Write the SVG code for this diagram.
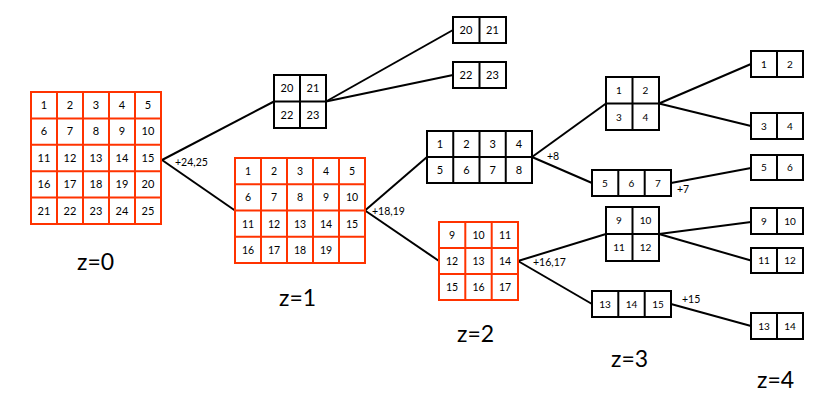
<svg xmlns="http://www.w3.org/2000/svg" width="831" height="411" viewBox="0 0 831 411">
<style>
.bg{fill:#ffffff}
.red{fill:#ffffff;stroke:#ff3300;stroke-width:2}
.redl{stroke:#ff3300;stroke-width:2;fill:none}
.blk{fill:#ffffff;stroke:#000000;stroke-width:2}
.blkl{stroke:#000000;stroke-width:2;fill:none}
.conn line{stroke:#000000;stroke-width:2}
text{font-family:Lato,"Open Sans","Liberation Sans",sans-serif;fill:#000000}
.n{font-size:11px;text-anchor:middle}
.m{font-size:10.5px;text-anchor:middle}
.s{font-size:10px;text-anchor:middle}
.lab{font-size:10.5px}
.z{font-size:23px}
</style>
<rect class="bg" x="0" y="0" width="831" height="411"/>
<g id="connectors" class="conn">
<line x1="162" y1="160" x2="274" y2="101.5"/>
<line x1="162" y1="160" x2="235" y2="210.5"/>
<line x1="326" y1="101.5" x2="453" y2="30"/>
<line x1="326" y1="101.5" x2="453" y2="75"/>
<line x1="365" y1="210.5" x2="427" y2="157"/>
<line x1="365" y1="210.5" x2="439" y2="261"/>
<line x1="532" y1="157" x2="606" y2="103.5"/>
<line x1="532" y1="157" x2="592" y2="183"/>
<line x1="518" y1="261" x2="606" y2="234"/>
<line x1="518" y1="261" x2="592" y2="304"/>
<line x1="659" y1="103.5" x2="751" y2="64"/>
<line x1="659" y1="103.5" x2="751" y2="126"/>
<line x1="671" y1="183" x2="751" y2="168"/>
<line x1="659" y1="234" x2="751" y2="222"/>
<line x1="659" y1="234" x2="751" y2="260.5"/>
<line x1="671" y1="304" x2="751" y2="326"/>
</g>
<g id="edge-labels">
<text class="lab" x="175" y="166">+24,25</text>
<text class="lab" x="372" y="215">+18,19</text>
<text class="lab" x="547" y="160">+8</text>
<text class="lab" x="533" y="266">+16,17</text>
<text class="lab" x="677" y="193">+7</text>
<text class="lab" x="682" y="303">+15</text>
</g>
<g id="grid-z0">
<rect class="red" x="31" y="92" width="130" height="132"/>
<path class="redl" d="M57 92V224M83 92V224M109 92V224M135 92V224M31 118.4H161M31 144.8H161M31 171.2H161M31 197.6H161"/>
<text class="n" x="44" y="109">1</text><text class="n" x="70" y="109">2</text><text class="n" x="96" y="109">3</text><text class="n" x="122" y="109">4</text><text class="n" x="148" y="109">5</text>
<text class="n" x="44" y="135.4">6</text><text class="n" x="70" y="135.4">7</text><text class="n" x="96" y="135.4">8</text><text class="n" x="122" y="135.4">9</text><text class="n" x="148" y="135.4">10</text>
<text class="n" x="44" y="161.8">11</text><text class="n" x="70" y="161.8">12</text><text class="n" x="96" y="161.8">13</text><text class="n" x="122" y="161.8">14</text><text class="n" x="148" y="161.8">15</text>
<text class="n" x="44" y="188.2">16</text><text class="n" x="70" y="188.2">17</text><text class="n" x="96" y="188.2">18</text><text class="n" x="122" y="188.2">19</text><text class="n" x="148" y="188.2">20</text>
<text class="n" x="44" y="214.6">21</text><text class="n" x="70" y="214.6">22</text><text class="n" x="96" y="214.6">23</text><text class="n" x="122" y="214.6">24</text><text class="n" x="148" y="214.6">25</text>
</g>
<g id="grid-z1">
<rect class="red" x="235" y="158" width="130" height="105"/>
<path class="redl" d="M261 158V263M287 158V263M313 158V263M339 158V263M235 184.25H365M235 210.5H365M235 236.75H365"/>
<text class="m" x="248" y="175">1</text><text class="m" x="274" y="175">2</text><text class="m" x="300" y="175">3</text><text class="m" x="326" y="175">4</text><text class="m" x="352" y="175">5</text>
<text class="m" x="248" y="201.2">6</text><text class="m" x="274" y="201.2">7</text><text class="m" x="300" y="201.2">8</text><text class="m" x="326" y="201.2">9</text><text class="m" x="352" y="201.2">10</text>
<text class="m" x="248" y="227.5">11</text><text class="m" x="274" y="227.5">12</text><text class="m" x="300" y="227.5">13</text><text class="m" x="326" y="227.5">14</text><text class="m" x="352" y="227.5">15</text>
<text class="m" x="248" y="253.7">16</text><text class="m" x="274" y="253.7">17</text><text class="m" x="300" y="253.7">18</text><text class="m" x="326" y="253.7">19</text>
</g>
<g id="box-20-23">
<rect class="blk" x="274" y="75" width="52" height="53"/>
<path class="blkl" d="M300 75V128M274 101.5H326"/>
<text class="n" x="287" y="92">20</text><text class="n" x="313" y="92">21</text>
<text class="n" x="287" y="118.5">22</text><text class="n" x="313" y="118.5">23</text>
</g>
<g id="box-20-21">
<rect class="blk" x="453" y="17" width="53" height="26"/>
<path class="blkl" d="M479.5 17V43"/>
<text class="n" x="466" y="34">20</text><text class="n" x="492.5" y="34">21</text>
</g>
<g id="box-22-23">
<rect class="blk" x="453" y="62" width="53" height="26"/>
<path class="blkl" d="M479.5 62V88"/>
<text class="n" x="466" y="79">22</text><text class="n" x="492.5" y="79">23</text>
</g>
<g id="box-1-8">
<rect class="blk" x="427" y="131" width="105" height="52"/>
<path class="blkl" d="M453.25 131V183M479.5 131V183M505.75 131V183M427 157H532"/>
<text class="n" x="440" y="148">1</text><text class="n" x="466.4" y="148">2</text><text class="n" x="492.6" y="148">3</text><text class="n" x="519" y="148">4</text>
<text class="n" x="440" y="174">5</text><text class="n" x="466.4" y="174">6</text><text class="n" x="492.6" y="174">7</text><text class="n" x="519" y="174">8</text>
</g>
<g id="grid-z2">
<rect class="red" x="439" y="222" width="79" height="78"/>
<path class="redl" d="M465.3 222V300M491.7 222V300M439 248H518M439 274H518"/>
<text class="m" x="452" y="239">9</text><text class="m" x="478.5" y="239">10</text><text class="m" x="505" y="239">11</text>
<text class="m" x="452" y="265">12</text><text class="m" x="478.5" y="265">13</text><text class="m" x="505" y="265">14</text>
<text class="m" x="452" y="291">15</text><text class="m" x="478.5" y="291">16</text><text class="m" x="505" y="291">17</text>
</g>
<g id="box-1-4">
<rect class="blk" x="606" y="77" width="53" height="53"/>
<path class="blkl" d="M632.5 77V130M606 103.5H659"/>
<text class="s" x="619" y="94">1</text><text class="s" x="645.5" y="94">2</text>
<text class="s" x="619" y="120.5">3</text><text class="s" x="645.5" y="120.5">4</text>
</g>
<g id="box-5-7">
<rect class="blk" x="592" y="170" width="79" height="26"/>
<path class="blkl" d="M618.3 170V196M644.7 170V196"/>
<text class="s" x="605" y="186.5">5</text><text class="s" x="631.5" y="186.5">6</text><text class="s" x="658" y="186.5">7</text>
</g>
<g id="box-9-12">
<rect class="blk" x="606" y="207" width="53" height="54"/>
<path class="blkl" d="M632.5 207V261M606 234H659"/>
<text class="s" x="619" y="224">9</text><text class="s" x="645.5" y="224">10</text>
<text class="s" x="619" y="251">11</text><text class="s" x="645.5" y="251">12</text>
</g>
<g id="box-13-15">
<rect class="blk" x="592" y="291" width="79" height="26"/>
<path class="blkl" d="M618.3 291V317M644.7 291V317"/>
<text class="s" x="605" y="307.5">13</text><text class="s" x="631.5" y="307.5">14</text><text class="s" x="658" y="307.5">15</text>
</g>
<g id="box-z4-1-2">
<rect class="blk" x="751" y="51" width="52" height="26"/>
<path class="blkl" d="M777 51V77"/>
<text class="s" x="764" y="67.5">1</text><text class="s" x="790" y="67.5">2</text>
</g>
<g id="box-z4-3-4">
<rect class="blk" x="751" y="113" width="52" height="26"/>
<path class="blkl" d="M777 113V139"/>
<text class="s" x="764" y="129.5">3</text><text class="s" x="790" y="129.5">4</text>
</g>
<g id="box-z4-5-6">
<rect class="blk" x="751" y="155" width="52" height="25"/>
<path class="blkl" d="M777 155V180"/>
<text class="s" x="764" y="171">5</text><text class="s" x="790" y="171">6</text>
</g>
<g id="box-z4-9-10">
<rect class="blk" x="751" y="208" width="52" height="26"/>
<path class="blkl" d="M777 208V234"/>
<text class="s" x="764" y="224.5">9</text><text class="s" x="790" y="224.5">10</text>
</g>
<g id="box-z4-11-12">
<rect class="blk" x="751" y="248" width="52" height="25"/>
<path class="blkl" d="M777 248V273"/>
<text class="s" x="764" y="264">11</text><text class="s" x="790" y="264">12</text>
</g>
<g id="box-z4-13-14">
<rect class="blk" x="751" y="313" width="52" height="26"/>
<path class="blkl" d="M777 313V339"/>
<text class="s" x="764" y="329.5">13</text><text class="s" x="790" y="329.5">14</text>
</g>
<g id="level-labels">
<text class="z" x="77" y="270">z=0</text>
<text class="z" x="279" y="306">z=1</text>
<text class="z" x="457" y="342">z=2</text>
<text class="z" x="611" y="367">z=3</text>
<text class="z" x="757" y="388">z=4</text>
</g>
</svg>
